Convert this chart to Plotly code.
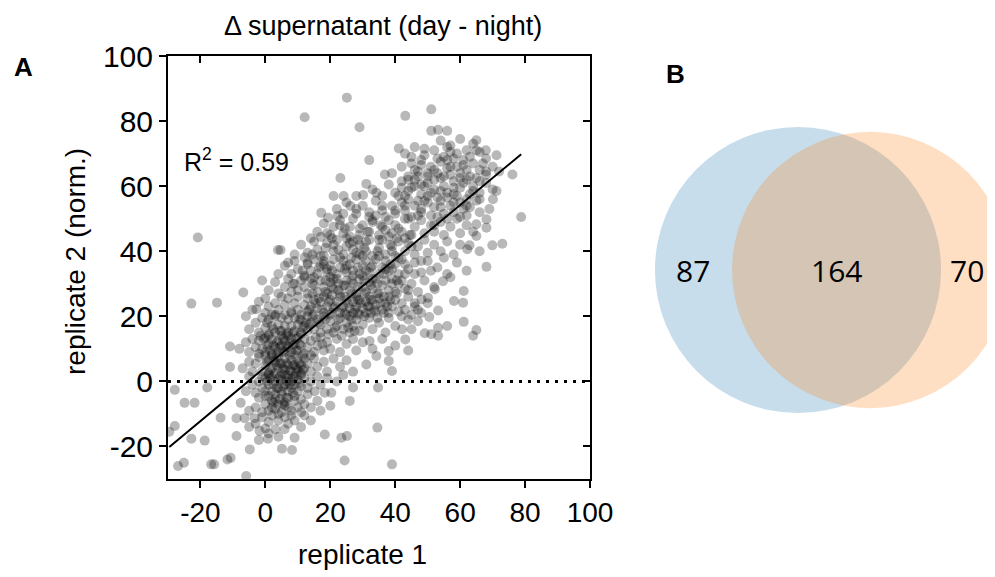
import math
import plotly.graph_objects as go

# ---------------- panel A : delta supernatant, replicate 1 vs replicate 2 ----------------
# values (sparse points individually, dense cloud approximated)
rep1 = [
    # low outliers
    -26.9, -25.1, -16.7, -15.8, -11.7, -10.7, -5.9, 24.4, 39.0, -29.6,
    -22.8, -18.7, -8.9, -4.8, -1.8, 0.8, 9.0, 5.1, 8.2, 18.3, 23.4, 25.1, -27.9, -13.8, 3.1, 5.9, 34.5,
    # left side
    -27.9, -17.9, -24.9, -21.8, -7.6, -8.9, -6.4, -3.3, -10.9, -10.9, -22.8, -14.9, -6.8, -2.8, -20.8,
    # right, low
    34.7, 27.0, 20.3, 18.3, 15.2, 26.0, 39.0, 38.0, 38.0, 31.1, 34.2, 32.1,
    # right, middle
    64.0, 65.0, 61.1, 53.2, 51.1, 49.1, 53.2, 43.1, 42.1, 61.1, 58.1, 60.9, 53.2, 50.5, 68.1, 54.7, 52.2, 50.1, 48.1,
    # upper sparse
    25.1, 12.1, 29.0, 32.0, 23.1, 51.1, 43.1, 78.8, 76.1, 73.0, 69.9, 71.2, 70.1, 68.1, 68.1, 65.0, 65.0, 62.2, 62.9,
    71.2, 67.9, 65.0, 51.1, 53.2, 56.0, 41.1, 36.8, 31.1, 34.2, 21.0, 24.1, 28.0, 30.1, 26.2, 17.2, 19.3, 22.2, 17.1,
    4.7, 3.9, 12.1, 7.0,
    # band -18..-10
    -3, -1, 1, 2, 4, 6, 7, 9, -5, 1, 4, 11, -2, 12, 14, 0,
    # band -10..-4
    -5, -3, -1, 0, 1, 2, 3, 4, 5, 6, 7, 8, 9, 10, 11, 12, 14, 16, -2, 1, 3, 5, 7, 9, 11, 13, 17, 20, 4, 8, 0, 6, 2,
    # band -4..2
    -6, -4, -3, -2, -1, 0, 0, 1, 2, 2, 3, 4, 4, 5, 5, 6, 7, 7, 8, 8, 9, 9, 10, 10, 11, 12, 13, 14, 16, 17, 19, 22, 24,
    -5, 3, 6, 1, 11,
    # band 2..8
    -7, -5, -4, -3, -2, -1, 0, 0, 1, 1, 2, 2, 3, 3, 4, 4, 5, 5, 6, 6, 7, 7, 8, 8, 9, 9, 10, 10, 11, 11, 12, 12, 13, 14,
    15, 16, 18, 19, 21, 23, 25, 27, -1, 14,
    # band 8..14
    -8, -6, -5, -4, -3, -2, -2, -1, 0, 0, 1, 2, 2, 3, 4, 4, 5, 5, 6, 6, 7, 8, 8, 9, 10, 10, 11, 12, 12, 13,
    14, 15, 16, 17, 18, 19, 20, 22, 23, 25, 27, 28, 30, 33, 36, 40, 44, 1, 7, 11,
    # band 14..20
    -5, -3, -2, -1, 0, 1, 1, 2, 3, 3, 4, 5, 5, 6, 7, 7, 8, 9, 9, 10, 11, 11, 12, 13, 13, 14, 15, 16, 17, 17,
    18, 19, 20, 21, 22, 23, 24, 25, 26, 26, 27, 28, 29, 30, 32, 33, 35, 37, 38, 40, 42, 45, 47, -6, 56, 8,
    # band 20..26
    -4, -2, 0, 0, 1, 2, 3, 4, 5, 6, 6, 7, 8, 9, 10, 10, 11, 12, 13, 13, 14, 15, 15, 16, 17, 18, 18, 19, 20, 20,
    21, 22, 23, 23, 24, 25, 25, 26, 27, 27, 28, 28, 29, 29, 30, 31, 31, 32, 32, 33, 34, 34, 35, 36, 37, 38, 38,
    39, 40, 41, 42, 43, 44, 46, 48, 50, 45, 3,
    # band 26..32
    1, 3, 4, 6, 7, 8, 9, 10, 11, 12, 13, 14, 15, 16, 17, 18, 19, 20, 21, 22, 23, 24, 25, 26, 27, 28, 29, 30, 31, 32,
    33, 34, 35, 36, 37, 38, 39, 40, 42, 43, 45, 47, 49, 52, 12, 20, 30, -1,
    # band 32..38
    4, 6, 8, 9, 10, 12, 13, 14, 15, 16, 17, 18, 19, 20, 21, 22, 23, 24, 25, 26, 27, 28, 29, 30, 31, 32, 33, 34, 35, 36,
    37, 38, 40, 41, 42, 44, 46, 48, 50, 53, 56, 59, 62,
    # band 38..44
    9, 11, 13, 15, 16, 18, 19, 21, 22, 24, 25, 27, 28, 29, 31, 32, 33, 35, 36, 37, 39, 40, 41, 43, 44, 46, 47, 49, 50,
    52, 54, 56, 58, 60, 66, 14, 26, 38,
    # band 44..50
    16, 18, 20, 21, 23, 24, 26, 27, 29, 30, 32, 33, 35, 36, 38, 39, 40, 42, 43, 45, 46, 48, 49, 51, 52, 54, 55, 57, 59,
    60, 62, 64, 34, 47,
    # band 50..56
    22, 25, 28, 30, 32, 34, 36, 37, 39, 40, 42, 43, 45, 46, 48, 49, 51, 52, 54, 55, 57, 58, 60, 62, 63, 66, 44, 56, 41,
    # band 56..62
    33, 36, 38, 40, 42, 43, 45, 46, 48, 49, 51, 52, 53, 55, 56, 58, 59, 60, 62, 63, 64, 66, 68, 70, 47,
    # band 62..68
    39, 42, 44, 45, 47, 48, 50, 51, 53, 54, 55, 57, 58, 60, 61, 63, 64, 66, 68, 70, 72,
    # band 68..76
    43, 46, 49, 52, 54, 55, 57, 59, 60, 62, 63, 64, 66, 68,
    # dense blob near the origin
    0.5, 2.5, 4.5, 6.5, 8.5, 10.5, 1.5, 3.5, 5.5, 7.5, 9.5, 11.5, 0.5, 2.5, 4.5, 6.5, 8.5, 10.5, 1.5, 3.5,
    5.5, 7.5, 9.5, 11.5, 0.5, 2.5, 4.5, 6.5, 8.5, 10.5, -0.5, 3.5, 5.5, 7.5, 9.5, 3.5, 5.5, 7.5, 9.5, 1.5,
    6.5, 4.5, 8.5, 2.5, 5.5,
    # dense band along the fit
    12.5, 14.5, 16.5, 18.5, 20.5, 22.5, 24.5, 26.5, 28.5, 30.5, 32.5, 34.5, 36.5, 13.5, 15.5, 17.5, 19.5, 21.5,
    23.5, 25.5, 27.5, 29.5, 31.5, 33.5, 35.5, 37.5, 14.5, 16.5, 18.5, 20.5, 22.5, 24.5, 26.5, 28.5, 30.5, 32.5,
    34.5, 36.5, 38.5, 40.5, 20.5, 24.5, 28.5, 32.5, 11.5, 13.5, 15.5, 17.5, 19.5, 21.5, 23.5, 25.5, 27.5, 10.5,
    8.5, 6.5, 4.5, 2.5, 0.5, -1.5,
    # upper band extra
    8.5, 11.5, 14.5, 16.5, 18.5, 20.5, 22.5, 24.5, 26.5, 28.5, 30.5, 32.5, 34.5, 36.5, 38.5, 40.5, 14.5, 18.5,
    22.5, 26.5, 30.5, 34.5, 38.5, 20.5, 24.5, 28.5, 31.5, 35.5, 40.5, 44.5,
    13, 15, 17, 19, 21, 23, 25, 27, 29, 31, 33, 35, 37, 39, 41, 43, 19, 21, 23, 25,
    27, 29, 31, 33, 35, 37, 39, 41, 43, 45, 24, 28, 32, 36, 40, 44, 48, 30, 18, 26,
    # upper right cloud extra
    44, 50, 54, 57, 61, 65, 67, 59, 56, 52, 48, 46, 62, 58, 50, 53, 61, 65, 69, 56,
    42, 44, 46, 48, 50, 52, 54, 56, 58, 60, 62, 64, 66, 68, 45, 49, 53, 57, 61, 65,
    50, 54, 58, 62, 66, 47, 43, 60, 56, 52,
    # right middle extra
    44, 46, 48, 51, 55, 57, 44, 46, 41, 39, 43, 47,
]
rep2 = [
    # low outliers
    -26.0, -25.0, -25.5, -25.5, -24.0, -23.5, -29.1, -24.3, -25.5, -15.5,
    -17.6, -18.2, -16.8, -20.9, -15.2, -17.6, -17.3, -20.7, -21.1, -16.3, -17.3, -16.8, -13.7, -11.2, -14.7, -14.7, -14.2,
    # left side
    -2.6, -1.9, -6.6, -6.6, -6.6, -11.3, -11.3, -11.3, 10.7, 4.4, 23.9, 24.2, 27.3, 22.2, 44.2,
    # right, low
    -1.9, -1.9, -3.5, -3.5, -3.0, -6.0, 3.2, 6.3, 9.3, 5.2, 7.8, 12.4,
    # right, middle
    14.0, 15.8, 18.3, 16.5, 14.5, 14.8, 14.0, 12.9, 16.0, 27.8, 24.7, 24.2, 21.8, 19.8, 35.2, 30.8, 28.3, 25.7, 25.2,
    # upper sparse
    87.2, 81.2, 78.1, 68.0, 62.5, 83.6, 81.6, 50.5, 63.6, 42.3, 41.8, 58.5, 56.0, 49.8, 47.2, 48.3, 44.7, 40.6, 41.8,
    69.5, 71.0, 74.1, 77.0, 77.3, 77.0, 71.6, 63.6, 60.7, 58.0, 57.0, 57.0, 57.0, 57.3, 53.9, 51.8, 50.3, 50.8, 44.4,
    40.4, 40.4, 38.1, 36.5,
    # band -18..-10
    -13, -11, -12.5, -10.5, -12, -11, -13, -12, -14, -16, -17, -14, -18, -10.5, -12, -14.5,
    # band -10..-4
    -9, -8, -9.5, -7, -9, -6, -8.5, -7, -9.5, -6.5, -8, -9, -6, -8, -9.5, -7, -8, -6, -5, -4.5, -5.5, -4, -5, -4.5,
    -5.5, -4, -9, -7.5, -10, -10.5, -4.5, -7.5, -8,
    # band -4..2
    -3, -1, -3.5, 0, -2, -3, 1, -1, -3, 1.5, 0, -2, 1, -3, 0.5, -1, 1, -3, 0, -2, 1.5, -1, -3, 0.5, -1.5, 1, -2, 0,
    1.5, -1, 1, 0, 2, 1.5, -4, 2, 2, 2,
    # band 2..8
    4, 6, 3, 5.5, 7.5, 3, 5, 8, 2.5, 6.5, 4, 8, 2.5, 6, 4, 7.5, 2.5, 5.5, 3.5, 7, 5, 2, 6.5, 3, 5, 8, 3.5, 6.5, 5,
    2.5, 7, 4, 5.5, 3, 7, 4.5, 6, 3, 7, 4.5, 6.5, 3, 1.5, 8,
    # band 8..14
    10, 12, 9, 13, 10.5, 8.5, 12.5, 10, 13.5, 9, 11.5, 8.5, 13, 10.5, 12.5, 9, 11, 14, 9, 12.5, 10.5, 13, 9, 11.5,
    9.5, 13.5, 11, 8.5, 13, 10.5, 12.5, 9, 11, 13.5, 9.5, 12, 10, 13, 9, 11.5, 13, 9.5, 12, 10, 13, 11, 9.5, 14, 14,
    14.5,
    # band 14..20
    16, 18, 15, 19.5, 16.5, 14.5, 19, 17, 15, 20, 17.5, 15.5, 19.5, 17, 15, 19, 17, 15.5, 19.5, 17.5, 15, 19, 17,
    15.5, 20, 18, 16, 19, 15, 17.5, 20, 16, 18.5, 15, 17, 19.5, 16, 18, 15, 20, 17, 19, 15.5, 17.5, 19.5, 16, 18, 15,
    19.5, 17, 20, 16, 18.5, 20, 17, 21,
    # band 20..26
    22, 24.5, 21, 25.5, 23, 20.5, 24, 22, 26, 20.5, 23.5, 25.5, 21.5, 24, 22, 26, 20.5, 23.5, 25.5, 21.5, 23, 20.5,
    25, 22.5, 24.5, 21, 26, 23, 25, 20.5, 22.5, 24.5, 21, 26, 23, 25, 20.5, 22.5, 24.5, 21, 26, 23, 25, 20.5, 22.5,
    24.5, 21, 26, 23, 25, 21.5, 23.5, 25.5, 22, 24, 21, 26, 23, 25, 21.5, 24, 22, 26, 23, 21, 24, 20.5, 20.5,
    # band 26..32
    28, 30.5, 27, 29, 31.5, 27.5, 30, 28, 31, 29, 27, 31.5, 29.5, 27.5, 31, 29, 27, 30.5, 28.5, 31.5, 27, 29.5, 31,
    28, 30, 27, 31.5, 29, 27.5, 30.5, 28.5, 31.5, 27, 29.5, 31, 28, 30, 27.5, 31, 28.5, 30, 27.5, 31, 29, 32, 32,
    32.5, 31,
    # band 32..38
    33, 35.5, 33, 37, 34.5, 32.5, 36, 34, 37.5, 33, 35.5, 37, 33.5, 35.5, 37.5, 33, 35, 37, 33.5, 36, 34, 37.5, 33,
    35.5, 37, 33.5, 35.5, 37.5, 33, 35, 37, 34, 36, 33, 37.5, 34.5, 36.5, 33.5, 37, 35, 33, 36.5, 34,
    # band 38..44
    39, 42, 39.5, 43, 40.5, 38.5, 42.5, 40, 43.5, 39, 41.5, 43, 39.5, 42, 40, 43.5, 38.5, 41, 43.5, 39, 41.5, 38.5,
    43, 40, 42.5, 39, 41.5, 43.5, 39.5, 42, 40, 43, 39, 42, 40, 44, 44.5, 44.5,
    # band 44..50
    46, 48.5, 45, 47.5, 49.5, 45.5, 47.5, 50, 45, 48, 46, 49.5, 45, 47.5, 49.5, 45.5, 48, 46, 50, 45, 47.5, 49.5,
    45.5, 48, 46, 49, 45, 47.5, 50, 45.5, 48, 46, 51, 51,
    # band 50..56
    53, 55, 51.5, 54, 52, 55.5, 52.5, 50.5, 54, 51.5, 55, 52.5, 50.5, 54, 52, 55.5, 51, 53.5, 55.5, 51.5, 54, 52, 55,
    51, 53.5, 52, 56, 56.5, 57,
    # band 56..62
    59, 57, 60.5, 58, 61.5, 57, 59.5, 62, 57.5, 60, 58, 62, 56.5, 60, 58, 61.5, 57, 59.5, 62, 57.5, 60, 58, 61, 59, 63,
    # band 62..68
    64, 66, 63, 67, 64.5, 68, 63, 66, 64, 67.5, 63, 66, 68.5, 64, 66.5, 63, 67, 65, 63.5, 66, 64.5,
    # band 68..76
    70, 72, 69.5, 71, 74, 69, 72.5, 70, 74.5, 71, 69, 73, 70.5, 68.5,
    # dense blob near the origin
    0, -1, 1.5, 0, 1, -0.5, 3.5, 5, 4, 3.5, 4, 3.5, 6, 6.5, 5.5, 5.5, 5, 5.5, 9.5, 8,
    9.5, 8, 9.5, 8, 11, 11, 10.5, 11, 11, 11.5, 13, 12, 13, 12, 13, -2, -1.5, -1, 2.5, 1,
    -5, -5.5, -3.5, -6.5, -7,
    # dense band along the fit
    18, 20, 18, 19, 21, 19, 21, 19, 21, 20, 21, 19.5, 21, 22, 24, 22, 24.5, 23,
    22.5, 24, 22, 24, 23, 22, 24, 23, 27, 25.5, 27.5, 26.5, 28, 26, 27, 25, 27, 25,
    27, 26, 25, 27, 29, 29.5, 29, 29.5, 16.5, 17.5, 13.5, 11.5, 14.5, 16.5, 14, 16.5, 15.5, 19,
    15, 14.5, 15.5, 16, 18, 14,
    # upper band extra
    30, 34, 30, 35, 31, 34, 30, 34.5, 31, 35, 31, 35, 30, 33, 36, 31, 39, 41,
    40.5, 38, 41, 40, 42, 44, 47, 43.5, 46, 48, 44, 45,
    36.5, 32, 38.5, 34.5, 31.5, 38, 35.5, 32.5, 39, 34, 31.5, 38.5, 34.5, 31.5, 38, 33, 45.5, 42, 48, 44,
    40.5, 47, 43, 49, 43.5, 46.5, 40, 47, 44, 41.5, 51.5, 53, 50.5, 54, 52.5, 50, 53, 38.5, 36, 42.5,
    # upper right cloud extra
    58.5, 61, 58.5, 63.5, 61, 62.5, 67, 66, 68, 65, 66.5, 60, 56, 55, 57, 50.5, 53, 55.5, 53, 72,
    59.5, 62, 65, 60.5, 64, 59, 62.5, 65.5, 59.5, 62.5, 65, 58.5, 61.5, 64.5, 69, 71.5, 68.5, 70.5, 68, 71,
    55, 53.5, 57.5, 54, 56, 55.5, 54, 50.5, 50, 48,
    # right middle extra
    28, 33, 37, 34, 38, 32, 19, 24, 30, 34.5, 36, 22,
]
assert len(rep1) == len(rep2)

fit_slope = 0.83
fit_intercept = 4.4
r_squared = 0.59

x_ticks = [-20, 0, 20, 40, 60, 80, 100]
y_ticks = [-20, 0, 20, 40, 60, 80, 100]
axis_range = [-30, 100]

# ---------------- panel B : overlap of the two replicates ----------------
only_rep1 = 87
shared = 164
only_rep2 = 70

W, H = 995, 577
OX, OY = 8, 8  # the page draws the figure 8px in from the top-left corner
FONT = "Liberation Sans, Arial, sans-serif"


def fx(px):
    # screen pixel -> paper x
    return (px - OX) / W


def fy(py):
    # screen pixel -> paper y
    return 1 - (py - OY) / H


def lens_area(r1, r2, d):
    if d >= r1 + r2:
        return 0.0
    if d <= abs(r1 - r2):
        return math.pi * min(r1, r2) ** 2
    a1 = r1 ** 2 * math.acos((d * d + r1 * r1 - r2 * r2) / (2 * d * r1))
    a2 = r2 ** 2 * math.acos((d * d + r2 * r2 - r1 * r1) / (2 * d * r2))
    a3 = 0.5 * math.sqrt((-d + r1 + r2) * (d + r1 - r2) * (d - r1 + r2) * (d + r1 + r2))
    return a1 + a2 - a3


# area proportional venn: circle area = pi * count
ra = math.sqrt(only_rep1 + shared)
rb = math.sqrt(only_rep2 + shared)
lo, hi = abs(ra - rb), ra + rb
for _ in range(80):
    mid = (lo + hi) / 2
    if lens_area(ra, rb, mid) / math.pi > shared:
        lo = mid
    else:
        hi = mid
dist = (lo + hi) / 2

fig = go.Figure()

fig.add_trace(go.Scatter(
    x=rep1, y=rep2, mode="markers",
    marker=dict(size=10, color="rgba(0,0,0,0.28)", line=dict(width=0)),
    hoverinfo="skip", showlegend=False))

fit_x = [min(rep1), max(rep1)]
fig.add_trace(go.Scatter(
    x=fit_x, y=[fit_slope * v + fit_intercept for v in fit_x],
    mode="lines", line=dict(color="black", width=2),
    hoverinfo="skip", showlegend=False))

# empty traces so the mirrored (inside-tick) axes and the venn subplot exist
fig.add_trace(go.Scatter(x=[None], y=[None], xaxis="x3", yaxis="y3",
                         showlegend=False, hoverinfo="skip"))
fig.add_trace(go.Scatter(x=[None], y=[None], xaxis="x2", yaxis="y2",
                         showlegend=False, hoverinfo="skip"))

axis_common = dict(range=axis_range, showgrid=False, zeroline=False, automargin=False,
                   tickcolor="black", tickwidth=2, ticklen=7)
fig.update_layout(
    width=W, height=H,
    margin=dict(l=0, r=0, t=0, b=0),
    paper_bgcolor="white", plot_bgcolor="white",
    showlegend=False,
    xaxis=dict(domain=[fx(168), fx(590)], anchor="y", ticks="outside",
               tickvals=x_ticks, ticktext=[str(v) for v in x_ticks],
               tickfont=dict(family=FONT, size=28, color="black"),
               showline=True, linecolor="black", linewidth=2, mirror=True,
               **axis_common),
    yaxis=dict(domain=[fy(479), fy(56)], anchor="x", ticks="outside",
               tickvals=y_ticks, ticktext=[str(v) for v in y_ticks],
               tickfont=dict(family=FONT, size=30, color="black"),
               showline=True, linecolor="black", linewidth=2, mirror=True,
               **axis_common),
    xaxis3=dict(overlaying="x", side="top", anchor="y3", ticks="inside",
                tickvals=x_ticks, showticklabels=False, showline=False,
                **axis_common),
    yaxis3=dict(overlaying="y", side="right", anchor="x3", ticks="inside",
                tickvals=y_ticks, showticklabels=False, showline=False,
                **axis_common),
)

# venn subplot, scaled so that one unit is the same number of pixels on both axes
k = 9.03
cx_px, cy_px = 798, 270
right_px = OX + W
fig.update_layout(
    xaxis2=dict(domain=[fx(640), 1.0], anchor="y2", automargin=False,
                range=[(640 - cx_px) / k, (right_px - cx_px) / k], visible=False),
    yaxis2=dict(domain=[fy(430), fy(110)], anchor="x2", automargin=False,
                range=[-(430 - cy_px) / k, (cy_px - 110) / k], visible=False),
)
fig.add_shape(type="circle", xref="x2", yref="y2", x0=-ra, x1=ra, y0=-ra, y1=ra,
              fillcolor="rgba(31,119,180,0.25)", line=dict(width=0), layer="below")
fig.add_shape(type="circle", xref="x2", yref="y2", x0=dist - rb, x1=dist + rb, y0=-rb, y1=rb,
              fillcolor="rgba(255,127,14,0.25)", line=dict(width=0), layer="below")

venn_font = dict(family="Open Sans, Noto Sans, sans-serif", size=30, color="black")
label_x = [(-ra + dist - rb) / 2, (dist - rb + ra) / 2, (ra + dist + rb) / 2]
label_x[2] = min(label_x[2], (967 - cx_px) / k)  # keep the last label inside the page
for xv, n in zip(label_x, [only_rep1, shared, only_rep2]):
    fig.add_annotation(x=xv, y=0, xref="x2", yref="y2", text=str(n), showarrow=False,
                       font=venn_font, xanchor="center", yanchor="middle")

# zero reference line
fig.add_shape(type="line", xref="x domain", yref="y", x0=0, x1=1, y0=0, y1=0,
              line=dict(color="black", width=3, dash="3px,6px"))

txt = dict(family=FONT, color="black")
fig.add_annotation(x=fx(383), y=fy(26), xref="paper", yref="paper",
                   text="Δ supernatant (day - night)", showarrow=False,
                   font=dict(size=27, **txt), xanchor="center", yanchor="middle")
fig.add_annotation(x=fx(362), y=fy(554), xref="paper", yref="paper",
                   text="replicate 1", showarrow=False,
                   font=dict(size=28, **txt), xanchor="center", yanchor="middle")
fig.add_annotation(x=fx(75), y=fy(262), xref="paper", yref="paper",
                   text="replicate 2 (norm.)", showarrow=False, textangle=-90,
                   font=dict(size=28, **txt), xanchor="center", yanchor="middle")
fig.add_annotation(x=fx(182), y=fy(160), xref="paper", yref="paper",
                   text=f"R<sup>2</sup> = {r_squared}", showarrow=False,
                   font=dict(size=25, **txt), xanchor="left", yanchor="middle")
fig.add_annotation(x=fx(23), y=fy(67), xref="paper", yref="paper",
                   text="<b>A</b>", showarrow=False,
                   font=dict(size=26, **txt), xanchor="center", yanchor="middle")
fig.add_annotation(x=fx(675), y=fy(74), xref="paper", yref="paper",
                   text="<b>B</b>", showarrow=False,
                   font=dict(size=26, **txt), xanchor="center", yanchor="middle")

fig.write_html("out.html")
